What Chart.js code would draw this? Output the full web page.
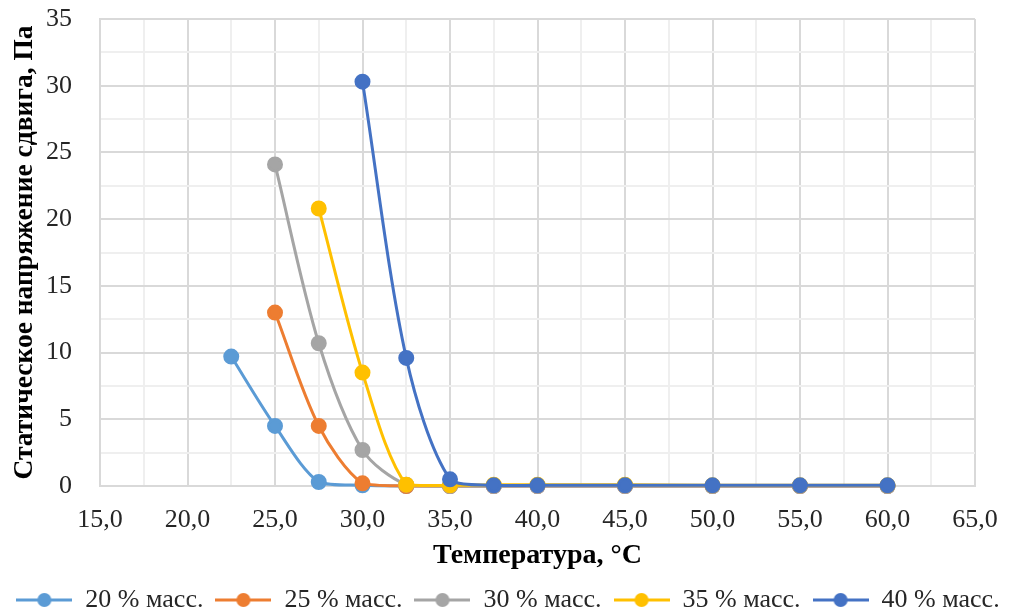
<!DOCTYPE html>
<html>
<head>
<meta charset="utf-8">
<script src="https://cdn.jsdelivr.net/npm/chart.js@4"></script>
<style>
  html, body { margin: 0; padding: 0; background: #fff; }
  #wrap { width: 1016px; height: 615px; }
</style>
</head>
<body>
<div id="wrap"><canvas id="chart" width="1016" height="615"></canvas></div>
<script>
const temps = [22.5, 25, 27.5, 30, 32.5, 35, 37.5, 40, 45, 50, 55, 60];
const s20 = [9.7, 4.5, 0.3, 0.05, 0, 0, 0, 0, 0, 0, 0, 0];
const s25 = [null, 13.0, 4.5, 0.2, 0, 0, 0, 0, 0, 0, 0, 0];
const s30 = [null, 24.1, 10.7, 2.7, 0.1, 0, 0, 0, 0, 0, 0, 0];
const s35 = [null, null, 20.8, 8.5, 0.1, 0.05, 0.1, 0.1, 0.1, 0.05, 0.05, 0.05];
const s40 = [null, null, null, 30.3, 9.6, 0.5, 0.05, 0.05, 0.05, 0.05, 0.05, 0.05];
const seriesNames = ['20 % масс.', '25 % масс.', '30 % масс.', '35 % масс.', '40 % масс.'];
const seriesColors = ['#5B9BD5', '#ED7D31', '#A5A5A5', '#FFC000', '#4472C4'];
const allSeries = [s20, s25, s30, s35, s40];

function toPoints(vals) {
    let pts = [];
    vals.forEach((v, i) => {
        if (v !== null) pts.push({ x: temps[i], y: v });
    });
    return pts;
}

// legend marker: line with a dot in the middle
function legendMarker(color) {
    const c = document.createElement('canvas');
    c.width = 56; c.height = 16;
    const g = c.getContext('2d');
    g.strokeStyle = color;
    g.lineWidth = 3;
    g.beginPath(); g.moveTo(0, 8); g.lineTo(56, 8); g.stroke();
    g.fillStyle = color;
    g.beginPath(); g.arc(28, 8, 7, 0, Math.PI * 2); g.fill();
    return c;
}
const markers = seriesColors.map(legendMarker);

const datasets = allSeries.map((vals, i) => ({
    label: seriesNames[i],
    data: toPoints(vals),
    borderColor: seriesColors[i],
    backgroundColor: seriesColors[i],
    borderWidth: 3,
    pointRadius: 6.5,
    pointHoverRadius: 6.5,
    tension: 0.3,
    clip: 10,
    order: 5 - i
}));

const fmt = v => v.toFixed(1).replace('.', ',');
const major = v => Math.abs(v / 5 - Math.round(v / 5)) < 1e-6;

new Chart(document.getElementById('chart'), {
    type: 'line',
    data: { datasets: datasets },
    options: {
        responsive: false,
        animation: false,
        layout: { padding: { left: 4, right: 4, top: 4, bottom: -8 } },
        scales: {
            x: {
                type: 'linear',
                min: 15, max: 65,
                border: { color: '#d9d9d9', width: 2 },
                grid: {
                    color: ctx => major(ctx.tick.value) ? '#d9d9d9' : '#efefef',
                    lineWidth: 2,
                    drawTicks: false
                },
                ticks: {
                    stepSize: 2.5,
                    autoSkip: false,
                    maxRotation: 0,
                    padding: 19,
                    color: '#262626',
                    font: { family: 'Liberation Serif', size: 26 },
                    callback: v => major(v) ? fmt(v) : ''
                },
                title: {
                    display: true,
                    text: 'Температура, °C',
                    color: '#000',
                    font: { family: 'Liberation Serif', size: 28, weight: 'bold' },
                    padding: { top: 4, bottom: 2 }
                },
                afterFit: s => {
                    s.height = 89;
                    s.paddingRight = 41;
                }
            },
            y: {
                min: 0, max: 35,
                border: { color: '#d9d9d9', width: 2 },
                grid: {
                    color: ctx => major(ctx.tick.value) ? '#d9d9d9' : '#efefef',
                    lineWidth: 2,
                    drawTicks: false
                },
                ticks: {
                    stepSize: 2.5,
                    autoSkip: false,
                    padding: 28,
                    color: '#262626',
                    font: { family: 'Liberation Serif', size: 26 },
                    callback: v => major(v) ? String(v) : ''
                },
                title: {
                    display: true,
                    text: 'Статическое напряжение сдвига, Па',
                    color: '#000',
                    font: { family: 'Liberation Serif', size: 27.5, weight: 'bold' },
                    padding: { top: 4, bottom: 4 }
                },
                afterFit: s => {
                    s.width = 96;
                    s.paddingTop = 19;
                    s.paddingBottom = 16;
                }
            }
        },
        plugins: {
            tooltip: { enabled: false },
            legend: {
                position: 'bottom',
                labels: {
                    usePointStyle: true,
                    pointStyleWidth: 56,
                    boxHeight: 16,
                    padding: 12,
                    color: '#262626',
                    font: { family: 'Liberation Serif', size: 26 },
                    sort: (a, b) => a.datasetIndex - b.datasetIndex,
                    generateLabels: chart => {
                        const items = Chart.defaults.plugins.legend.labels.generateLabels(chart);
                        items.forEach(it => { it.pointStyle = markers[it.datasetIndex]; });
                        return items;
                    }
                }
            }
        }
    }
});
</script>
</body>
</html>
